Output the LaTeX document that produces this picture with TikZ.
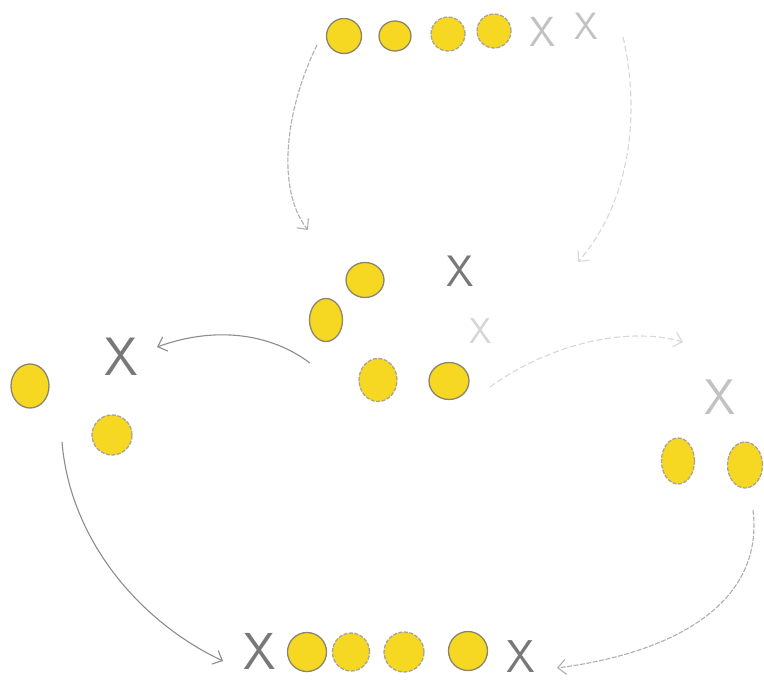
\documentclass[tikz,border=0pt]{standalone}
\usepackage{fontspec}
\usepackage{tikz}
\usetikzlibrary{arrows.meta, shapes.geometric}

\definecolor{grainfill}{RGB}{246,216,34}
\definecolor{grainedge}{RGB}{140,132,108}
\definecolor{inkgray}{RGB}{120,120,120}

\begin{document}
\begin{tikzpicture}[x=1pt, y=-1pt, >={Straight Barb[length=8pt, width=15pt]},
        % Node Styles
        grain/.style={ellipse, draw=grainedge, fill=grainfill, line width=1.3pt, inner sep=0pt, minimum width=36pt, minimum height=36pt},
        softgrain/.style={grain, draw=grainedge!75, dash pattern=on 4pt off 1.5pt},
        gone/.style={inner sep=0pt, text=inkgray, font=\sffamily\fontsize{#1}{#1}\selectfont},
        gone/.default=46pt,
        fadedgone/.style={gone=#1, text=inkgray!45},
        fadedgone/.default=44pt,
        arrow/.style={->, line width=1.1pt, draw=inkgray!85},
        sketchyarrow/.style={arrow, draw=inkgray!60, dash pattern=on 5pt off 1.5pt},
        fadedarrow/.style={arrow, draw=inkgray!30, dash pattern=on 6pt off 3pt}
    ]
    \useasboundingbox (0,0) rectangle (764,686);

    % --- 1. Starting Row ---
    \node[grain, minimum width=35pt, minimum height=35pt] (t1) at (344,36) {};
    \node[grain, minimum width=32pt, minimum height=30pt] (t2) at (395,36) {};
    \node[softgrain, minimum width=34pt, minimum height=34pt] (t3) at (448,34) {};
    \node[softgrain, minimum width=34pt, minimum height=34pt] (t4) at (494,31) {};
    \node[fadedgone=42pt] (tx1) at (543,32) {X};
    \node[fadedgone=38pt] (tx2) at (586,26) {X};

    % --- 2. Middle Heap ---
    \node[grain, minimum width=38pt, minimum height=35pt] (m1) at (365,280) {};
    \node[grain, minimum width=33pt, minimum height=43pt] (m2) at (326,320) {};
    \node[softgrain, minimum width=38pt, minimum height=43pt] (m3) at (378,380) {};
    \node[grain, minimum width=40pt, minimum height=37pt] (m4) at (449,381) {};
    \node[gone=44pt] (mx1) at (460,271) {X};
    \node[fadedgone=36pt, text=inkgray!30] (mx2) at (481,331) {X};

    % --- 3. Left Split ---
    \node[grain, minimum width=38pt, minimum height=44pt] (l1) at (30,386) {};
    \node[softgrain, minimum width=40pt, minimum height=40pt] (l2) at (112,435) {};
    \node[gone=54pt] (lx) at (121,357) {X};

    % --- 4. Right Split ---
    \node[fadedgone=50pt] (rx) at (720,397) {X};
    \node[softgrain, minimum width=33pt, minimum height=46pt] (r1) at (678,461) {};
    \node[softgrain, minimum width=35pt, minimum height=46pt] (r2) at (745,465) {};

    % --- 5. Merged Row ---
    \node[gone=52pt] (bx1) at (260,651) {X};
    \node[grain, minimum width=39pt, minimum height=39pt] (b1) at (307,652) {};
    \node[softgrain, minimum width=37pt, minimum height=38pt] (b2) at (351,652) {};
    \node[softgrain, minimum width=40pt, minimum height=40pt] (b3) at (404,652) {};
    \node[grain, minimum width=39pt, minimum height=39pt] (b4) at (468,651) {};
    \node[gone=46pt] (bx2) at (521,657) {X};

    % --- Arrow Ends ---
    \coordinate (top-l) at (317,45);
    \coordinate (top-r) at (623,37);
    \coordinate (heap-in-l) at (308,230);
    \coordinate (heap-in-r) at (578,262);
    \coordinate (heap-out-l) at (310,363);
    \coordinate (heap-out-r) at (490,387);
    \coordinate (left-in) at (157,347);
    \coordinate (right-in) at (683,342);
    \coordinate (left-out) at (62,442);
    \coordinate (right-out) at (753,510);
    \coordinate (merge-l) at (223,661);
    \coordinate (merge-r) at (557,668);

    % --- Routing Connections ---
    % Top row down into the heap
    \draw[sketchyarrow] (top-l) .. controls (285,110) and (276,190) .. (heap-in-l);
    \draw[fadedarrow] (top-r) .. controls (640,110) and (632,200) .. (heap-in-r);

    % Heap splits in two
    \draw[arrow] (heap-out-l) .. controls (270,333) and (215,326) .. (left-in);
    \draw[fadedarrow] (heap-out-r) .. controls (540,350) and (620,324) .. (right-in);

    % Both halves merge again
    \draw[arrow] (left-out) .. controls (70,540) and (140,622) .. (merge-l);
    \draw[sketchyarrow] (right-out) .. controls (764,600) and (680,652) .. (merge-r);

\end{tikzpicture}
\end{document}
